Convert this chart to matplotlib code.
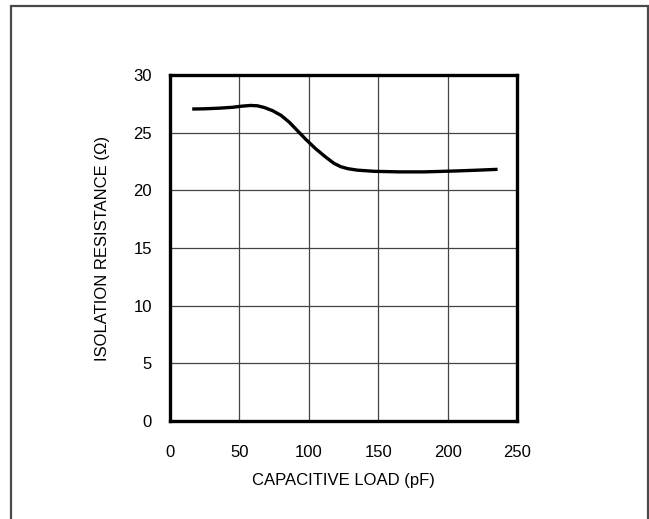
import matplotlib
matplotlib.use('Agg')
import matplotlib.pyplot as plt
from matplotlib.patches import Rectangle

plt.rcParams['font.family'] = ['Liberation Sans', 'DejaVu Sans']

# data
load_pf = [16, 25, 35, 45, 52, 58, 63, 68, 74, 80, 86, 92, 98, 105, 112, 118, 123, 128,
           135, 147, 165, 183, 206, 222, 236]
resistance = [27.05, 27.07, 27.12, 27.2, 27.3, 27.36, 27.33, 27.18, 26.9, 26.5, 25.9, 25.15,
              24.4, 23.6, 22.9, 22.35, 22.05, 21.88, 21.75, 21.65, 21.6, 21.6, 21.68, 21.75, 21.82]

x_ticks = [0, 50, 100, 150, 200, 250]
y_ticks = [0, 5, 10, 15, 20, 25, 30]

fig = plt.figure(figsize=(6.49, 5.19), dpi=100)
ax = fig.add_axes([170 / 649, 98 / 519, 347 / 649, 346 / 519])

ax.plot(load_pf, resistance, color='black', linewidth=2.4,
        solid_capstyle='butt', solid_joinstyle='round')

ax.set_xlim(0, 250)
ax.set_ylim(0, 30)
ax.set_xticks(x_ticks)
ax.set_yticks(y_ticks)
ax.grid(True, color='#444444', linewidth=0.9)
ax.tick_params(length=0, labelsize=12)
ax.tick_params(axis='x', pad=17)
ax.tick_params(axis='y', pad=13)
for s in ax.spines.values():
    s.set_linewidth(2.4)

ax.set_xlabel('CAPACITIVE LOAD (pF)', fontsize=12, labelpad=10)
ax.set_ylabel('ISOLATION RESISTANCE (Ω)', fontsize=12, labelpad=17)

# outer frame
fig.add_artist(Rectangle((11 / 649, -0.05), 637 / 649, 1.05 - 6 / 519,
                         transform=fig.transFigure, fill=False,
                         edgecolor='#4a4a4a', linewidth=1.6))

fig.savefig('out.png', dpi=100)
